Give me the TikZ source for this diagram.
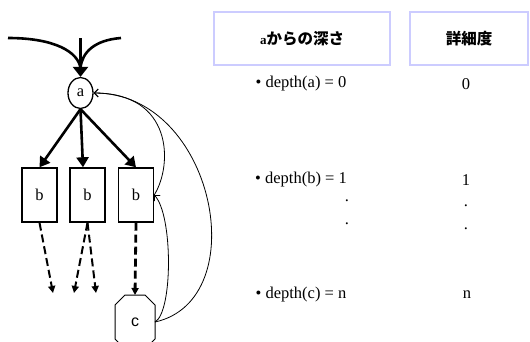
\documentclass[tikz,border=0pt]{standalone}
\usepackage{fontspec}
\setmainfont{Liberation Serif}
\newfontfamily\cjk{Noto Sans CJK JP}
\newfontfamily\sansf{Liberation Sans}
\usetikzlibrary{arrows.meta,shapes.geometric,calc}
\definecolor{lav}{RGB}{204,204,255}
\begin{document}
\begin{tikzpicture}[x=1pt,y=-1pt,
  font=\fontsize{16.5}{19}\selectfont,
  thickarrow/.style={line width=2.6pt,-{Triangle[length=10pt,width=12pt]}},
  dasharrow/.style={line width=2pt,dash pattern=on 8pt off 4pt,-{Triangle[length=7pt,width=7pt]}},
  thinarrow/.style={line width=0.8pt,-{Straight Barb[length=4pt,width=8pt]}},
  bbox/.style={draw,line width=1.4pt,minimum width=35pt,minimum height=54pt,inner sep=0pt},
  hbox/.style={draw=lav,line width=1.6pt,minimum height=53pt,inner sep=0pt},
  hdr/.style={font=\cjk\bfseries\fontsize{15.5}{18}\selectfont}
]
\useasboundingbox (0,0) rectangle (530,341);
% top incoming
\coordinate (t1) at (8,38);
\coordinate (t2) at (80.5,38);
\coordinate (t3) at (121,38);
\coordinate (tj) at (80.5,68);
\node[draw,ellipse,line width=1.3pt,minimum width=25pt,minimum height=31pt,inner sep=0pt] (a) at (80.5,93) {a};
\draw[line width=2.6pt] (t1) .. controls (55,38) and (78,52) .. (tj);
\draw[line width=2.6pt] (t3) .. controls (95,40) and (82,52) .. (tj);
\draw[line width=2.6pt,-{Triangle[length=10pt,width=15pt]}] (t2) -- (a.north);
% b boxes
\node[bbox] (b1) at (39.5,195) {b};
\node[bbox] (b2) at (87.5,195) {b};
\node[bbox] (b3) at (136,195) {b};
\draw[thickarrow] (a.south) -- (b1.north);
\draw[thickarrow] (a.south) -- ($(b2.north)+(-4.5,0)$);
\draw[thickarrow] (a.south) -- (b3.north);
% octagon c
\draw[line width=1pt] (125,295) -- (145,295) -- (155,305) -- (155,339) -- (145,349) -- (125,349) -- (115,339) -- (115,305) -- cycle;
\node[font=\sansf\fontsize{16}{19}\selectfont] (c) at (135,322) {c};
\coordinate (ctop) at (135,295);
\coordinate (cr) at (155,322);
% dashed
\coordinate (d1) at (53,293);
\coordinate (d2) at (74,293);
\coordinate (d3) at (96,293);
\draw[dasharrow] (b1.south) -- (d1);
\draw[dasharrow] (b2.south) -- (d2);
\draw[dasharrow] (b2.south) -- (d3);
\draw[dasharrow,line width=2.8pt] (b3.south) -- (ctop);
% thin curves
\draw[thinarrow] (b3.east) .. controls (173,165) and (173,93) .. (a.east);
\draw[thinarrow] (cr) .. controls (173,312) and (173,215) .. (b3.east);
\draw[thinarrow] (cr) .. controls (255,300) and (215,93) .. (a.east);
% right table
\node[hbox,minimum width=176pt] (h1) at (302,38.5) {};
\node[hbox,minimum width=118pt] (h2) at (469,38.5) {};
\node[hdr] (h1t) at (h1) {\textbf{\fontspec{Liberation Serif}\fontsize{13}{15}\selectfont a}からの深さ};
\node[hdr] (h2t) at (h2) {詳細度};
\node (r1) at (301,84) {\textbullet\ depth(a) = 0};
\node (v1) at (466,84) {0};
\node (r2) at (301,180) {\textbullet\ depth(b) = 1};
\node (v2) at (466,180) {1};
\node (p1) at (347,201) {.};
\node (p2) at (347,224) {.};
\node (p3) at (466,206) {.};
\node (p4) at (466,229) {.};
\node (r3) at (301,295) {\textbullet\ depth(c) = n};
\node (v3) at (467,295) {n};
\end{tikzpicture}
\end{document}
